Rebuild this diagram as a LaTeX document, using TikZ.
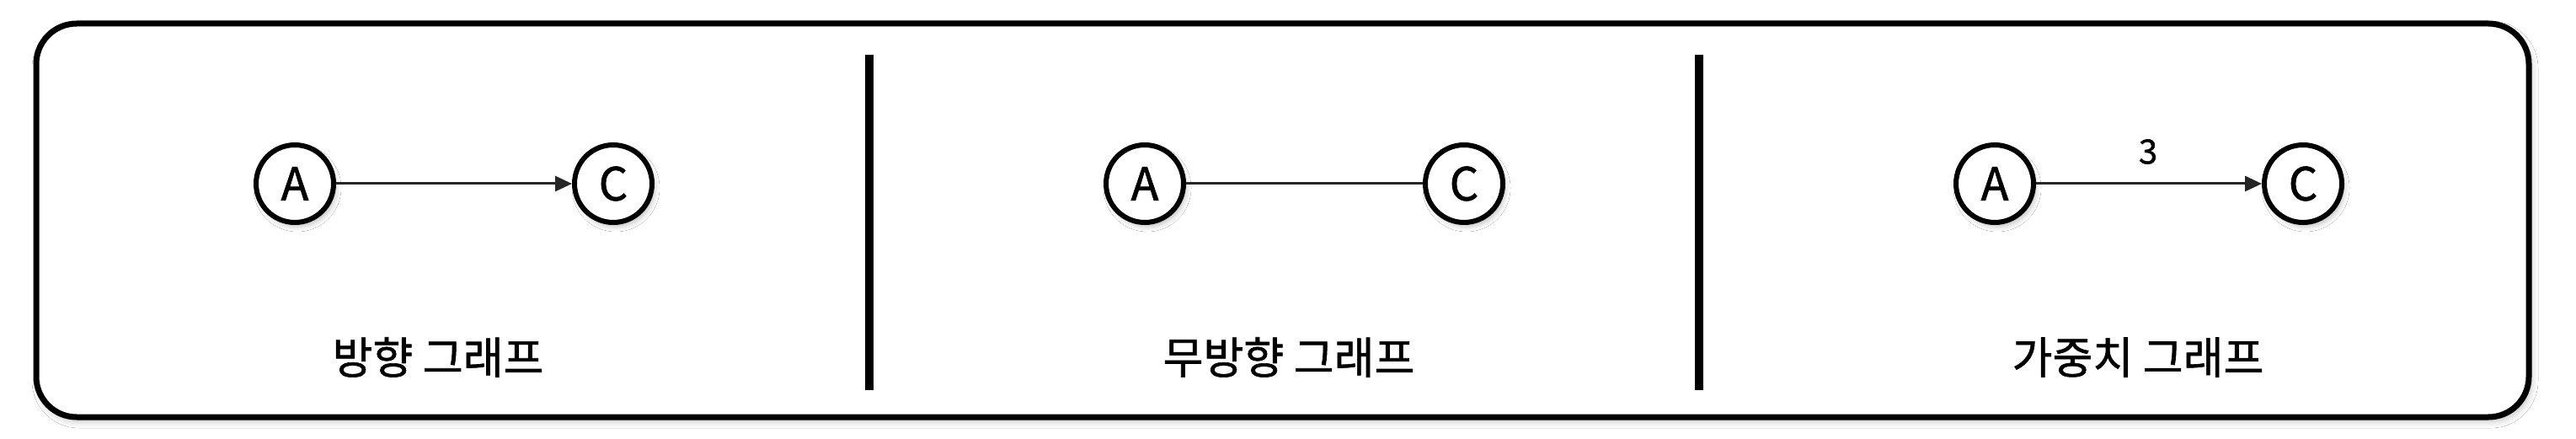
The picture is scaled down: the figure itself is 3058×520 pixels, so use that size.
\documentclass[tikz,border=0pt]{standalone}
\usepackage{fontspec}
\setmainfont{Noto Sans CJK KR}
\newfontfamily\medfont{Noto Sans CJK KR}[FakeBold=1.2]
\usetikzlibrary{arrows.meta,shadows.blur}
\begin{document}
\begin{tikzpicture}[x=1pt,y=1pt,
  vert/.style={circle,draw=black,line width=6pt,fill=white,minimum size=92pt,inner sep=0pt,
    font=\medfont\fontsize{54}{60}\selectfont,
    blur shadow={shadow xshift=3pt,shadow yshift=-5pt,shadow blur radius=6pt,shadow opacity=25}},
  edgeline/.style={line width=3pt,draw=black!85},
  arrowline/.style={edgeline,-{Triangle[length=20pt,width=18pt]}},
  caption/.style={font=\medfont\fontsize{52}{60}\selectfont,inner sep=0pt},
  weight/.style={font=\medfont\fontsize{40}{48}\selectfont,inner sep=0pt},
  divider/.style={line width=10pt,draw=black},
  frame/.style={line width=7pt,draw=black,rounded corners=48pt,fill=white,
    blur shadow={shadow xshift=3pt,shadow yshift=-5pt,shadow blur radius=8pt,shadow opacity=25}}]
\useasboundingbox (0,0) rectangle (3058,520);
\fill[white] (0,0) rectangle (3058,520);
\path[frame] (43,492) rectangle (3002,25);
% dividers
\coordinate (d1t) at (1032,455);
\coordinate (d1b) at (1032,57);
\coordinate (d2t) at (2017,455);
\coordinate (d2b) at (2017,57);
\draw[divider] (d1t) -- (d1b);
\draw[divider] (d2t) -- (d2b);
% panel 1
\node[vert] (a1) at (350,302) {A};
\node[vert] (c1) at (728,302) {C};
\draw[arrowline] (a1) -- (c1);
\node[caption] (l1) at (520,96) {방향 그래프};
% panel 2
\node[vert] (a2) at (1359,302) {A};
\node[vert] (c2) at (1738,302) {C};
\draw[edgeline] (a2) -- (c2);
\node[caption] (l2) at (1530,96) {무방향 그래프};
% panel 3
\node[vert] (a3) at (2368,302) {A};
\node[vert] (c3) at (2734,302) {C};
\draw[arrowline] (a3) -- (c3);
\node[weight] (w3) at (2550,340) {3};
\node[caption] (l3) at (2538,96) {가중치 그래프};
\end{tikzpicture}
\end{document}
